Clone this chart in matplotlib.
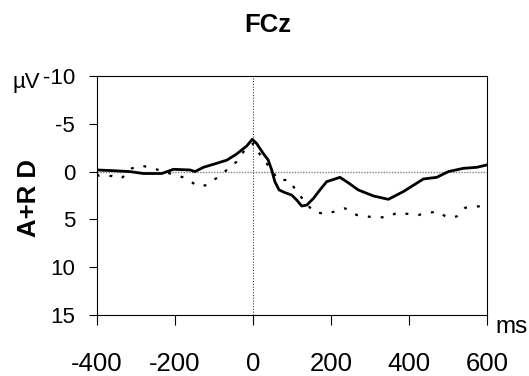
import matplotlib
matplotlib.use("Agg")
import matplotlib.pyplot as plt

plt.rcParams['font.family'] = ['Liberation Sans', 'DejaVu Sans']
plt.rcParams['axes.unicode_minus'] = False

# solid curve (ms, µV)
solid_t = [-400, -360, -315, -281, -234, -204, -161, -149, -127, -93, -67, -42, -16, -2,
           9, 26, 39, 48, 56, 67, 82, 99, 112, 125, 138, 155, 170, 189, 223, 244, 270,
           309, 347, 385, 437, 471, 501, 539, 574, 599]
solid_v = [-0.17, -0.1, 0.0, 0.2, 0.2, -0.24, -0.17, 0.0, -0.45, -0.87, -1.2, -1.84, -2.68, -3.38,
           -2.96, -1.91, -1.21, -0.17, 1.05, 1.92, 2.2, 2.45, 2.97, 3.6, 3.5, 2.8, 2.0, 1.05, 0.6, 1.16, 1.92,
           2.55, 2.9, 2.1, 0.77, 0.6, 0.0, -0.34, -0.45, -0.69]

# dotted curve (ms, µV)
dot_t = [-400, -394, -362, -337, -311, -285, -256, -200, -170, -144, -119, -91, -65, -42, -21,
         1, 9, 26, 65, 93, 112, 155, 185, 215, 236, 266, 292, 319, 343, 370, 398, 424,
         449, 475, 497, 522, 544, 569, 597]
dot_v = [0.3, 0.46, 0.46, 0.7, -0.34, -0.62, -0.34, 0.36, 0.7, 1.5, 1.43, 0.6, -0.24, -1.04, -2.26,
         -2.96, -2.26, -1.39, 0.88, 0.88, 2.1, 4.2, 4.43, 4.12, 3.84, 4.54, 4.7, 4.78, 4.78, 4.3, 4.43, 4.54,
         4.3, 4.19, 4.78, 4.7, 3.78, 3.67, 3.57]

x_ticks = [-400, -200, 0, 200, 400, 600]
y_ticks = [-10, -5, 0, 5, 10, 15]

W, H = 529, 376
fig = plt.figure(figsize=(W / 100, H / 100), dpi=100)
ax = fig.add_axes([97 / W, 1 - 315 / H, 390 / W, 239 / H])

ax.axhline(0, color='#808080', lw=1.0, ls=(0, (1, 1)), zorder=1)
ax.axvline(0, color='#404040', lw=0.8, ls=(0, (1, 1.5)), zorder=1)

ax.plot(dot_t, dot_v, color='black', lw=1.6, ls=(0, (1.3, 4.5)), zorder=2)
ax.plot(solid_t, solid_v, color='black', lw=2.0, zorder=3)

ax.set_xlim(-400, 600)
ax.set_ylim(15, -10)
ax.set_xticks(x_ticks)
ax.set_yticks(y_ticks)
ax.tick_params(axis='x', direction='out', length=7.2, width=0.8, pad=19.5, labelsize=18.5)
ax.tick_params(axis='y', direction='out', length=5.8, width=0.8, pad=10, labelsize=16)
for s in ax.spines.values():
    s.set_linewidth(0.8)

fig.text(268 / W, 1 - 25.5 / H, 'FCz', ha='center', va='center', fontsize=18.5, fontweight='bold')
fig.text(29 / W, 1 - 198 / H, 'A+R D', ha='center', va='center', rotation=90,
         fontsize=18.5, fontweight='bold')
fig.text(12 / W, 1 - 88 / H, 'µV', ha='left', va='baseline', fontsize=16)
fig.text(495 / W, 1 - 333 / H, 'ms', ha='left', va='baseline', fontsize=17.5)

fig.savefig('out.png', dpi=100)
